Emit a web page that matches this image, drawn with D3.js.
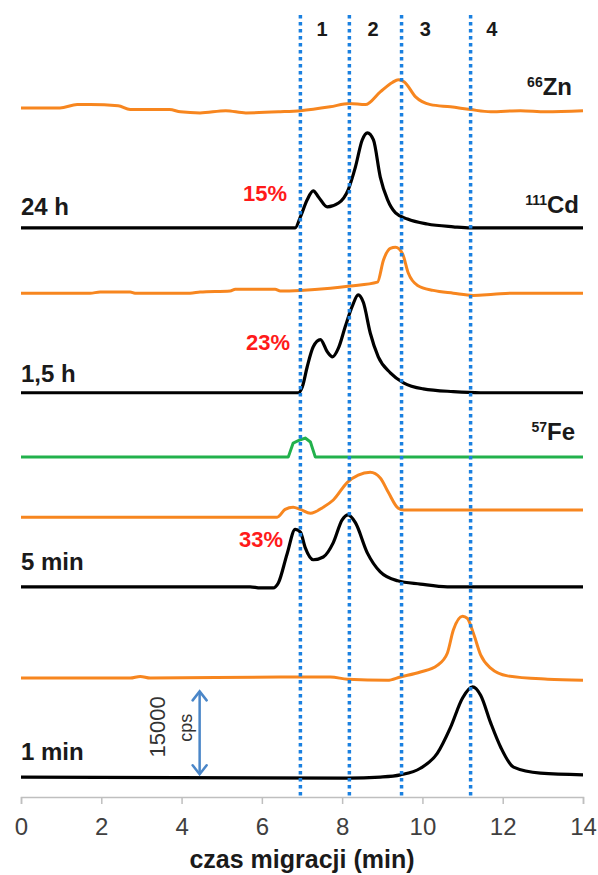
<!DOCTYPE html>
<html>
<head>
<meta charset="utf-8">
<style>
  body { margin: 0; background: #fff; }
  svg { display: block; font-family: "Liberation Sans", Arial, sans-serif; }
</style>
</head>
<body>
<script src="https://d3js.org/d3.v7.min.js"></script>
<script>
    // migration time (min) and signal above each trace's baseline (kcps)
    const zn24Time = [0, 0.97, 1.4, 1.72, 2.42, 2.72, 3.7, 3.97, 4.46, 5.1, 5.6, 6.46, 6.96, 7.7, 8.18, 8.58, 8.95, 9.25, 9.4, 9.55, 9.83, 10.2, 10.7, 11.2, 11.7, 12.44, 13.07, 14];
    const zn24Signal = [0.5, 0.5, 1.1, 1.1, 0.9, 0.2, 0.2, -0.2, -0.4, 0, -0.4, -0.2, 0, 0.7, 1.3, 1.1, 3.4, 5.1, 5.6, 5.2, 2.5, 1.1, 0.7, 0.2, -0.2, 0, -0.2, 0];

    const cd24Time = [0, 2.5, 4.8, 6.83, 6.96, 7.13, 7.28, 7.41, 7.63, 7.91, 8.15, 8.33, 8.5, 8.63, 8.78, 8.95, 9.13, 9.33, 9.63, 10.12, 10.77, 11.2, 14];
    const cd24Signal = [0, 0, 0, 0, 2.0, 5.1, 6.7, 5.6, 3.8, 4.5, 6.9, 11.0, 15.9, 17.2, 15.9, 9.2, 5.1, 2.7, 1.6, 0.7, 0.2, 0, 0];

    const zn15Time = [0, 1.72, 1.97, 2.72, 2.84, 4.21, 4.46, 5.21, 5.34, 6.33, 6.46, 6.96, 7.71, 8.2, 8.88, 9.03, 9.2, 9.33, 9.5, 9.65, 9.88, 10.27, 10.77, 11.27, 11.77, 12.27, 14];
    const zn15Signal = [0, 0, 0.2, 0.2, 0, 0, 0.2, 0.4, 0.7, 0.7, 0.4, 0.5, 0.9, 1.3, 2.0, 6.0, 8.1, 8.3, 7.2, 3.6, 1.4, 0.5, 0, -0.4, -0.2, 0, 0];

    const cd15Time = [0, 6.91, 7.01, 7.13, 7.28, 7.46, 7.63, 7.76, 7.91, 8.08, 8.25, 8.4, 8.53, 8.7, 8.9, 9.2, 9.53, 10.02, 10.77, 11.45, 14];
    const cd15Signal = [0, 0, 1.1, 4.7, 8.3, 9.6, 7.4, 6.5, 8.1, 12.0, 15.6, 17.7, 16.3, 10.8, 6.5, 3.6, 1.8, 0.7, 0.2, 0, 0];

    const feTime = [0, 6.66, 6.78, 6.96, 7.08, 7.21, 7.33, 14];
    const feSignal = [0, 0, 2.5, 3.1, 3.4, 2.7, 0, 0];

    const zn5Time = [0, 6.38, 6.58, 6.78, 6.96, 7.21, 7.53, 7.78, 8.13, 8.4, 8.7, 8.95, 9.15, 9.4, 9.53, 14];
    const zn5Signal = [0, 0, 1.4, 1.8, 1.4, 0.7, 1.8, 3.1, 6.3, 7.6, 8.1, 7.1, 4.5, 1.6, 1.3, 1.3];

    const cd5Time = [0, 5.71, 5.96, 6.28, 6.41, 6.63, 6.83, 6.96, 7.08, 7.28, 7.53, 7.78, 8.0, 8.15, 8.33, 8.63, 8.95, 9.38, 9.95, 10.62, 14];
    const cd5Signal = [0, 0, -0.2, -0.2, 0.7, 6.0, 10.4, 9.9, 7.1, 4.9, 5.4, 8.0, 12.1, 13.0, 11.6, 6.1, 2.7, 1.1, 0.5, 0, 0];

    const zn1Time = [0, 2.72, 2.97, 3.22, 6.46, 7.71, 8.13, 9.13, 9.45, 9.95, 10.37, 10.62, 10.77, 11.0, 11.12, 11.27, 11.45, 11.7, 12.12, 13.12, 14];
    const zn1Signal = [0, 0, 0.3, 0, 0.2, 0.2, -0.2, -0.4, 0.2, 1.1, 2.3, 4.5, 8.7, 11.2, 10.8, 8.1, 4.2, 1.8, 0.4, -0.2, -0.4];

    const cd1Time = [0, 8.13, 8.95, 9.45, 9.95, 10.37, 10.7, 11.0, 11.25, 11.45, 11.7, 11.95, 12.27, 12.94, 14];
    const cd1Signal = [0, -0.2, 0, 0.4, 1.6, 4.3, 9.0, 14.3, 16.3, 14.8, 9.8, 5.4, 1.8, 0.7, 0.4];

    // vertical offset of each trace (kcps)
    const traceOffsets = [124.1, 102.9, 91.1, 73.1, 61.5, 50.6, 38.0, 21.5, 3.6];

    const sampleLabels = ["24 h", "1,5 h", "5 min", "1 min"];
    const percentLabels = ["15%", "23%", "33%"];
    const regionLabels = ["1", "2", "3", "4"];
    const regionCenters = [7.5, 8.77, 10.07, 11.73];
    const regionBounds = [6.96, 8.18, 9.48, 11.2];
    const xTicks = [0, 2, 4, 6, 8, 10, 12, 14];
    const scaleBarCps = 15000;

    const width = 598;
    const height = 875;

    const xScale = d3.scaleLinear().domain([0, 14]).range([21, 583]);
    const yScale = d3.scaleLinear().domain([0, 141.4]).range([797, 15]);

    const svg = d3.select("body")
        .append("svg")
        .attr("width", width)
        .attr("height", height);

    const orange = "#f7861f", black = "#000000", green = "#22b14c";

    const traces = [
        { t: zn24Time, v: zn24Signal, color: orange },
        { t: cd24Time, v: cd24Signal, color: black },
        { t: zn15Time, v: zn15Signal, color: orange },
        { t: cd15Time, v: cd15Signal, color: black },
        { t: feTime, v: feSignal, color: green, linear: true },
        { t: zn5Time, v: zn5Signal, color: orange },
        { t: cd5Time, v: cd5Signal, color: black },
        { t: zn1Time, v: zn1Signal, color: orange },
        { t: cd1Time, v: cd1Signal, color: black }
    ];

    // axis
    const xAxis = d3.axisBottom(xScale)
        .tickValues(xTicks)
        .tickSize(7)
        .tickPadding(14);

    const axisG = svg.append("g")
        .attr("transform", "translate(0," + yScale(0) + ")")
        .call(xAxis);
    axisG.selectAll("path, line").attr("stroke", "#bfbfbf").attr("stroke-width", 1.5);
    axisG.selectAll("text")
        .attr("fill", "#404040")
        .style("font-size", "24px")
        .style("font-family", "'Liberation Sans', Arial, sans-serif");

    svg.append("text")
        .attr("x", 302)
        .attr("y", 868)
        .attr("text-anchor", "middle")
        .attr("font-size", 25)
        .attr("font-weight", "bold")
        .attr("fill", "#1a1a1a")
        .text("czas migracji (min)");

    // traces
    traces.forEach((tr, i) => {
        const pts = tr.t.map((t, j) => [t, tr.v[j] + traceOffsets[i]]);
        const line = d3.line()
            .x(d => xScale(d[0]))
            .y(d => yScale(d[1]))
            .curve(tr.linear ? d3.curveLinear : d3.curveMonotoneX);
        svg.append("path")
            .datum(pts)
            .attr("d", line)
            .attr("fill", "none")
            .attr("stroke", tr.color)
            .attr("stroke-width", tr.color === black ? 3.2 : 3)
            .attr("stroke-linejoin", "round");
    });

    // region boundaries
    svg.selectAll(".bound")
        .data(regionBounds)
        .enter()
        .append("line")
        .attr("x1", d => xScale(d))
        .attr("x2", d => xScale(d))
        .attr("y1", yScale(141.4))
        .attr("y2", yScale(0))
        .attr("stroke", "#1a80e0")
        .attr("stroke-width", 3.5)
        .attr("stroke-dasharray", "3.5,3.5");

    svg.selectAll(".region")
        .data(regionLabels)
        .enter()
        .append("text")
        .attr("x", (d, i) => xScale(regionCenters[i]))
        .attr("y", 36)
        .attr("text-anchor", "middle")
        .attr("font-size", 20)
        .attr("font-weight", "bold")
        .attr("fill", "#1a1a1a")
        .text(d => d);

    // sample labels above Cd traces
    const sampleTraceIdx = [1, 3, 6, 8];
    const sampleLift = [13, 11, 17, 17];
    svg.selectAll(".sample")
        .data(sampleLabels)
        .enter()
        .append("text")
        .attr("x", xScale(0))
        .attr("y", (d, i) => yScale(traceOffsets[sampleTraceIdx[i]]) - sampleLift[i])
        .attr("font-size", 24)
        .attr("font-weight", "bold")
        .attr("fill", "#1a1a1a")
        .text(d => d);

    const percentPos = [[287, 201], [290, 350], [283, 547]];
    svg.selectAll(".pct")
        .data(percentLabels)
        .enter()
        .append("text")
        .attr("x", (d, i) => percentPos[i][0])
        .attr("y", (d, i) => percentPos[i][1])
        .attr("text-anchor", "end")
        .attr("font-size", 22)
        .attr("font-weight", "bold")
        .attr("fill", "#ff1a1a")
        .text(d => d);

    // isotope labels
    const isotopes = [
        { mass: "66", el: "Zn", x: 572, y: 95 },
        { mass: "111", el: "Cd", x: 579, y: 213 },
        { mass: "57", el: "Fe", x: 575, y: 440 }
    ];
    isotopes.forEach(iso => {
        const t = svg.append("text")
            .attr("x", iso.x)
            .attr("y", iso.y)
            .attr("text-anchor", "end")
            .attr("font-weight", "bold")
            .attr("fill", "#1a1a1a");
        t.append("tspan").attr("font-size", 14).attr("dy", -8).text(iso.mass);
        t.append("tspan").attr("font-size", 24).attr("dy", 8).text(iso.el);
    });

    // scale bar 15000 cps
    const barX = xScale(4.45);
    const barBottom = yScale(4.1);
    const barTop = yScale(4.1 + scaleBarCps / 1000);
    const barColor = "#4a86c8";
    svg.append("line")
        .attr("x1", barX).attr("x2", barX)
        .attr("y1", barTop + 1).attr("y2", barBottom - 1)
        .attr("stroke", barColor).attr("stroke-width", 2.5);
    svg.append("path")
        .attr("d", `M${barX - 7},${barTop + 9}L${barX},${barTop}L${barX + 7},${barTop + 9}`
            + `M${barX - 7},${barBottom - 9}L${barX},${barBottom}L${barX + 7},${barBottom - 9}`)
        .attr("fill", "none")
        .attr("stroke", barColor)
        .attr("stroke-width", 2.5)
        .attr("stroke-linecap", "round");

    const barMid = (barTop + barBottom) / 2;
    svg.append("text")
        .attr("transform", `translate(${barX - 35},${barMid - 6}) rotate(-90)`)
        .attr("text-anchor", "middle")
        .attr("font-size", 22)
        .attr("fill", "#333")
        .text(d3.format("d")(scaleBarCps));
    svg.append("text")
        .attr("transform", `translate(${barX - 8},${barMid - 5}) rotate(-90)`)
        .attr("text-anchor", "middle")
        .attr("font-size", 18)
        .attr("fill", "#333")
        .text("cps");
</script>
</body>
</html>
